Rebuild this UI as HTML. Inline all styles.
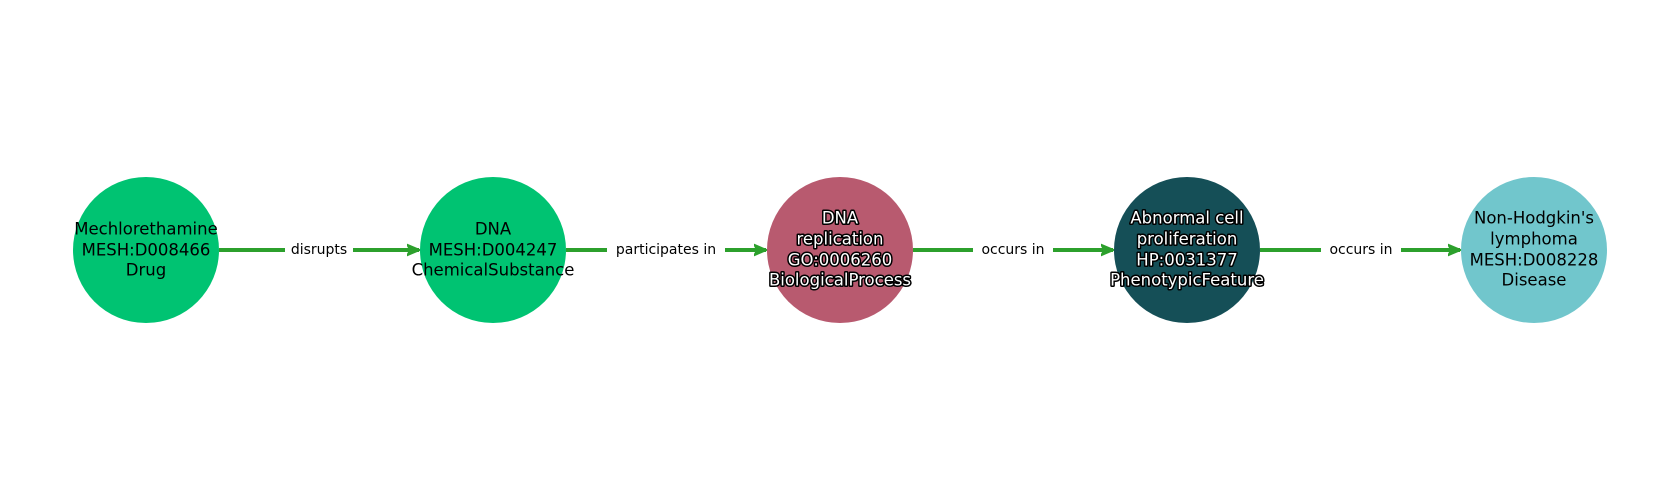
<!DOCTYPE html>
<html><head><meta charset="utf-8"><style>
body{margin:0;background:#fff}
svg{display:block}
.n{font-family:"DejaVu Sans","Liberation Sans",sans-serif;font-size:16.5px;text-anchor:middle;dominant-baseline:central}
.w{fill:#fff;stroke:#000;stroke-width:3px;paint-order:stroke;stroke-linejoin:round}
.e{font-family:"DejaVu Sans","Liberation Sans",sans-serif;font-size:14px;text-anchor:middle;dominant-baseline:central}
</style></head><body>
<svg width="1680" height="500" viewBox="0 0 1680 500">
<defs><marker id="a" markerWidth="14" markerHeight="14" refX="12" refY="7" orient="auto" markerUnits="userSpaceOnUse"><path d="M0,1.5 L13,7 L0,12.5 L3,7 Z" fill="#2ca02c" stroke="#2ca02c" stroke-width="1.5" stroke-linejoin="round"/></marker></defs>
<g stroke="#2ca02c" stroke-width="4" marker-end="url(#a)">
<line x1="219" y1="250" x2="419" y2="250"/>
<line x1="566" y1="250" x2="766" y2="250"/>
<line x1="913" y1="250" x2="1113" y2="250"/>
<line x1="1260" y1="250" x2="1460" y2="250"/>
</g>
<g fill="#fff">
<rect x="285" y="240" width="68" height="20"/>
<rect x="607" y="240" width="118" height="20"/>
<rect x="973" y="240" width="80" height="20"/>
<rect x="1321" y="240" width="80" height="20"/>
</g>
<text class="e" x="319" y="250">disrupts</text>
<text class="e" x="666" y="250">participates in</text>
<text class="e" x="1013" y="250">occurs in</text>
<text class="e" x="1361" y="250">occurs in</text>
<circle cx="146" cy="250" r="73" fill="#00c372"/>
<circle cx="493" cy="250" r="73" fill="#00c372"/>
<circle cx="840" cy="250" r="73" fill="#b85a6f"/>
<circle cx="1187" cy="250" r="73" fill="#154f57"/>
<circle cx="1534" cy="250" r="73" fill="#71c6cc"/>
<g class="n">
<text x="146" y="229">Mechlorethamine</text><text x="146" y="250">MESH:D008466</text><text x="146" y="270">Drug</text>
<text x="493" y="229">DNA</text><text x="493" y="250">MESH:D004247</text><text x="493" y="270">ChemicalSubstance</text>
<text class="w" x="840" y="218">DNA</text><text class="w" x="840" y="239">replication</text><text class="w" x="840" y="260">GO:0006260</text><text class="w" x="840" y="280">BiologicalProcess</text>
<text class="w" x="1187" y="218">Abnormal cell</text><text class="w" x="1187" y="239">proliferation</text><text class="w" x="1187" y="260">HP:0031377</text><text class="w" x="1187" y="280">PhenotypicFeature</text>
<text x="1534" y="218">Non-Hodgkin's</text><text x="1534" y="239">lymphoma</text><text x="1534" y="260">MESH:D008228</text><text x="1534" y="280">Disease</text>
</g>
</svg>
</body></html>
